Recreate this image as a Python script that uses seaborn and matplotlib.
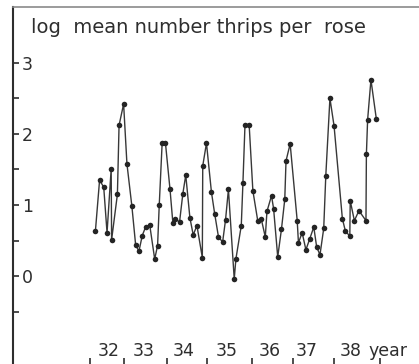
import matplotlib
matplotlib.use("Agg")
import matplotlib.pyplot as plt
import seaborn as sns
import pandas as pd

# Monthly sampling dates (decimal years, 19xx) and log mean thrips per rose
month_pos = [
    32.13, 32.23, 32.33, 32.41, 32.51, 32.52, 32.66, 32.70, 32.81, 32.89,
    33.01, 33.10, 33.18, 33.26, 33.34, 33.44, 33.56, 33.63, 33.67, 33.74,
    33.82, 33.93, 34.00, 34.05, 34.16, 34.24, 34.31, 34.41, 34.49, 34.58,
    34.71, 34.72, 34.81, 34.93, 35.01, 35.10, 35.20, 35.27, 35.34, 35.48,
    35.52, 35.65, 35.69, 35.74, 35.84, 35.93, 36.05, 36.13, 36.23, 36.27,
    36.38, 36.43, 36.53, 36.62, 36.70, 36.73, 36.83, 37.00, 37.03, 37.12,
    37.21, 37.30, 37.40, 37.47, 37.55, 37.64, 37.69, 37.79, 37.89, 38.09,
    38.16, 38.27, 38.28, 38.38, 38.49, 38.66, 38.67, 38.70, 38.78, 38.91,
]
log_thrips = [
    0.64, 1.35, 1.25, 0.61, 1.51, 0.51, 1.15, 2.12, 2.42, 1.58,
    0.98, 0.44, 0.35, 0.57, 0.69, 0.72, 0.24, 0.43, 1.00, 1.87,
    1.87, 1.22, 0.74, 0.81, 0.76, 1.16, 1.42, 0.82, 0.58, 0.71,
    0.26, 1.55, 1.87, 1.18, 0.87, 0.55, 0.48, 0.79, 1.22, -0.04,
    0.24, 0.71, 1.31, 2.13, 2.13, 1.20, 0.77, 0.81, 0.55, 0.91,
    1.13, 0.95, 0.27, 0.66, 1.08, 1.62, 1.86, 0.78, 0.47, 0.61,
    0.37, 0.52, 0.69, 0.41, 0.30, 0.67, 1.41, 2.50, 2.11, 0.81,
    0.64, 0.56, 1.06, 0.78, 0.92, 0.78, 1.71, 2.20, 2.76, 2.21,
]

# Year boundaries and year labels along the time axis
year_bounds = [32.0, 32.83, 33.85, 34.83, 35.92, 36.91, 37.90, 39.0]
year_label_pos = [32.46, 33.30, 34.25, 35.31, 36.34, 37.24, 38.30, 39.20]
year_labels = ["32", "33", "34", "35", "36", "37", "38", "year"]

y_major = [0, 1, 2, 3]
y_minor = [-0.5, 0.5, 1.5, 2.5]

sns.set_theme(style="white")
plt.rcParams["font.family"] = ["DejaVu Sans"]

df = pd.DataFrame({"t": month_pos, "v": log_thrips})

W, H = 419, 364
fig = plt.figure(figsize=(W / 100, H / 100), dpi=100)
fig.patch.set_facecolor("white")
ax = fig.add_axes([13 / W, -2 / H, (W - 13) / W, (366 - 7) / H])

sns.lineplot(data=df, x="t", y="v", ax=ax, sort=False, estimator=None,
             color="#383838", linewidth=1.0, marker="o", markersize=4.0,
             markeredgewidth=0, markerfacecolor="#242424")

ax.set_xlim(30.14, 39.94)
ax.set_ylim(-1.263, 3.783)
ax.set_xlabel("")
ax.set_ylabel("")

# Spines: dark left axis, light top rule, nothing on the right
ax.spines["right"].set_visible(False)
ax.spines["bottom"].set_visible(False)
ax.spines["left"].set_color("#2e2e2e")
ax.spines["left"].set_linewidth(1.5)
ax.spines["top"].set_color("#8a8a8a")
ax.spines["top"].set_linewidth(1.2)

# y ticks point inward, labels sit inside the plot
ax.set_yticks(y_major)
ax.set_yticks(y_minor, minor=True)
ax.set_yticklabels([str(v) for v in y_major])
ax.tick_params(axis="y", which="both", direction="in", length=4,
               width=1.2, color="#2e2e2e", left=True)
ax.tick_params(axis="y", which="major", pad=-6.5, labelsize=12.5,
               labelcolor="#2e2e2e")
for lbl in ax.get_yticklabels():
    lbl.set_horizontalalignment("left")

# x: year boundary marks and year labels above them
ax.set_xticks(year_label_pos)
ax.set_xticklabels(year_labels)
ax.set_xticks(year_bounds, minor=True)
ax.tick_params(axis="x", which="major", length=0, pad=-17.5,
               labelsize=12.5, labelcolor="#2e2e2e")
ax.tick_params(axis="x", which="minor", direction="in", length=6,
               width=1.2, color="#2e2e2e", bottom=True)

fig.text(31 / W, 1 - 33 / H, "log  mean number thrips per  rose",
         fontsize=14, color="#2e2e2e", va="baseline", ha="left")

fig.savefig("out.png", dpi=100)
